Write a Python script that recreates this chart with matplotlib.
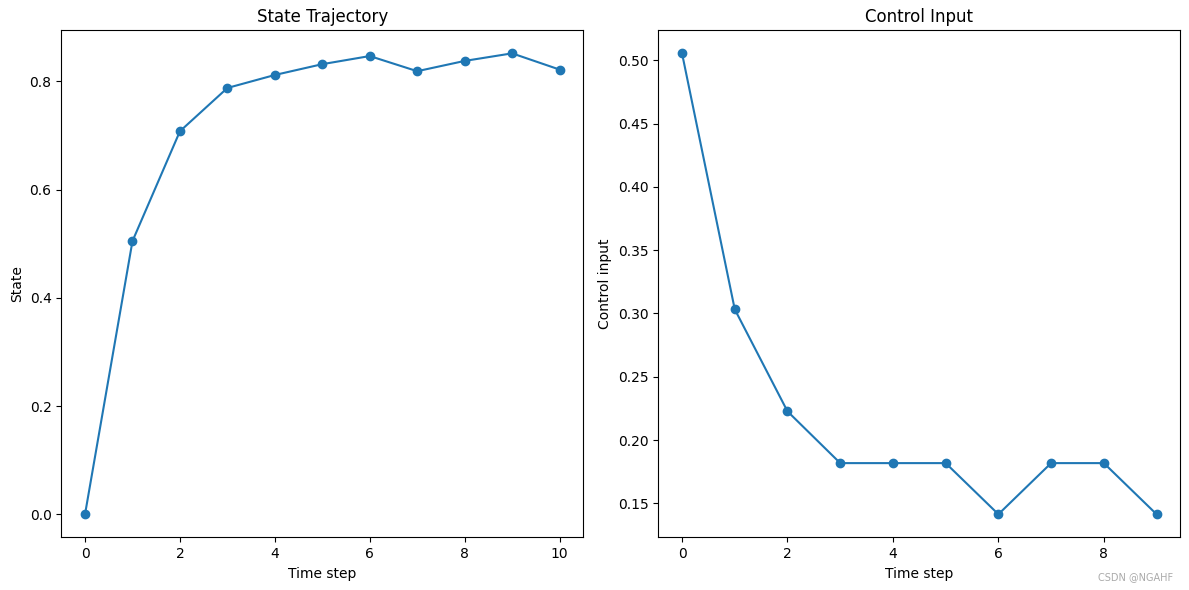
import matplotlib
matplotlib.use("Agg")
import matplotlib.pyplot as plt

state_steps = list(range(11))
state_values = [0.0, 0.505, 0.708, 0.788, 0.812, 0.832, 0.847, 0.819, 0.838, 0.852, 0.822]

control_steps = list(range(10))
control_values = [0.5055, 0.3033, 0.2227, 0.1818, 0.1818, 0.1818, 0.1414, 0.1818, 0.1818, 0.1414]

W, H = 1189, 590
fig = plt.figure(figsize=(W / 100, H / 100), dpi=100)
bottom = (H - 537.3) / H
height = (537.3 - 30.3) / H
ax1 = fig.add_axes([61.3 / W, bottom, 522 / W, height])
ax2 = fig.add_axes([658.3 / W, bottom, 522 / W, height])

ax1.plot(state_steps, state_values, marker='o')
ax1.set_title("State Trajectory")
ax1.set_xlabel("Time step")
ax1.set_ylabel("State")

ax2.plot(control_steps, control_values, marker='o')
ax2.set_title("Control Input")
ax2.set_xlabel("Time step")
ax2.set_ylabel("Control input")

fig.text(1173 / W, (H - 582) / H, "CSDN @NGAHF", ha='right', va='bottom', fontsize=7, color='#aaaaaa')
fig.savefig("out.png", dpi=100)
